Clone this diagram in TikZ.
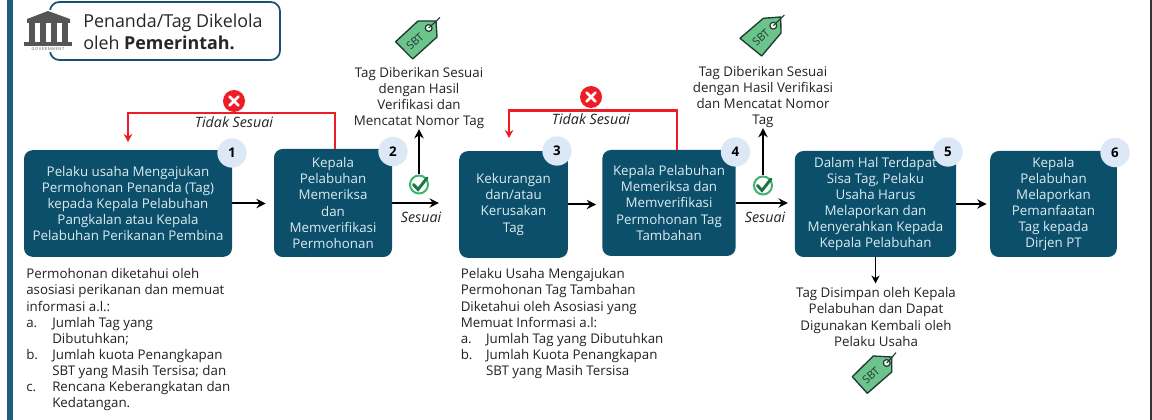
\documentclass[tikz,border=0pt]{standalone}
\usepackage{fontspec}
\setmainfont{Open Sans}
\usetikzlibrary{arrows.meta}
\definecolor{boxblue}{HTML}{0B4F6B}
\definecolor{barblue}{HTML}{1C5F80}
\definecolor{badgeblue}{HTML}{DCE8F5}
\definecolor{boxtext}{HTML}{DCEBF0}
\definecolor{bodytext}{HTML}{222222}
\definecolor{taggreen}{HTML}{6CC38C}
\definecolor{tagline}{HTML}{1E3A2C}
\definecolor{ringgreen}{HTML}{3DB56E}
\definecolor{tickgreen}{HTML}{1D7544}
\definecolor{govgray}{HTML}{555555}
\definecolor{xred}{HTML}{EE1C25}
\newcommand{\bodyfont}{\fontsize{10}{12.05}\selectfont}
\tikzset{
  px/.style={x=0.75pt,y=-0.75pt},
  stepbox/.style={draw=none,fill=boxblue,rounded corners=6.5pt,text=boxtext,align=center,font=\bodyfont,inner sep=0pt},
  badge/.style={circle,fill=badgeblue,minimum size=22pt,inner sep=0pt,font=\fontsize{10}{11}\selectfont\bfseries,text=black},
  bodylabel/.style={inner sep=0pt,font=\bodyfont,text=bodytext},
  flowlabel/.style={inner sep=0pt,font=\fontsize{10.7}{12}\selectfont\itshape,text=bodytext},
  flow/.style={draw=black,line width=1.5pt,-{Stealth[length=7pt,width=7pt]}},
  rejectflow/.style={draw=xred,line width=1.8pt,-{Stealth[length=6pt,width=6.5pt]}},
  okring/.style={circle,draw=ringgreen,line width=1.5pt,fill=white,minimum size=13.5pt,inner sep=0pt},
  oktick/.style={draw=tickgreen,line width=2.2pt,line cap=round},
  nomark/.style={circle,fill=xred,minimum size=16.5pt,inner sep=0pt},
  nostroke/.style={draw=white,line width=1.9pt,line cap=round},
  tagshape/.style={fill=taggreen,draw=tagline,line width=1pt,line join=round},
  tagtext/.style={inner sep=0pt,font=\fontsize{8.2}{9}\selectfont,text=tagline},
  goviron/.style={fill=govgray,draw=none}
}
\begin{document}
\begin{tikzpicture}[px]
\useasboundingbox (0,0) rectangle (1152,420);
\fill[white] (0,0) rectangle (1152,420);
\fill[barblue] (7,0) rectangle (13,420);
\fill[black!80] (1150,0) rectangle (1152,420);

% legend
\draw[draw=barblue!85!black,line width=1.3pt,rounded corners=7pt,fill=white] (50,2) rectangle (280,60);
\fill[white] (46,10) rectangle (56,52);
\fill[goviron] (27,19) -- (48,11) -- (70,19) -- (70,23) -- (27,23) -- cycle;
\fill[goviron] (29,23) rectangle (35,42);
\fill[goviron] (40,23) rectangle (46,42);
\fill[goviron] (51,23) rectangle (57,42);
\fill[goviron] (62,23) rectangle (68,42);
\fill[goviron] (24,42) rectangle (72,46);
\node[inner sep=0pt,text=govgray,font=\fontsize{3}{3}\selectfont] (gov) at (48,49) {\addfontfeatures{LetterSpace=15}GOVERNMENT};
\node[inner sep=0pt,anchor=west,align=left,text=black!85,font=\fontsize{13.4}{16.5}\selectfont] (legend) at (83,32) {Penanda/Tag Dikelola\\oleh \textbf{Pemerintah.}};

% steps
\node[stepbox,minimum width=156pt,minimum height=80pt] (b1) at (128,203.5) {Pelaku usaha Mengajukan\\Permohonan Penanda (Tag)\\kepada Kepala Pelabuhan\\Pangkalan atau Kepala\\Pelabuhan Perikanan Pembina};
\node[stepbox,minimum width=88.5pt,minimum height=81pt] (b2) at (333,203) {Kepala\\Pelabuhan\\Memeriksa\\dan\\Memverifikasi\\Permohonan};
\node[stepbox,minimum width=81.5pt,minimum height=80pt] (b3) at (513.5,204.5) {Kekurangan\\dan/atau\\Kerusakan\\Tag};
\node[stepbox,minimum width=100pt,minimum height=79.5pt] (b4) at (669,203) {Kepala Pelabuhan\\Memeriksa dan\\Memverifikasi\\Permohonan Tag\\Tambahan};
\node[stepbox,minimum width=121pt,minimum height=79.5pt] (b5) at (875.5,204) {Dalam Hal Terdapat\\Sisa Tag, Pelaku\\Usaha Harus\\Melaporkan dan\\Menyerahkan Kepada\\Kepala Pelabuhan};
\node[stepbox,minimum width=95pt,minimum height=79.5pt] (b6) at (1053.5,204) {Kepala\\Pelabuhan\\Melaporkan\\Pemanfaatan\\Tag kepada\\Dirjen PT};

\node[badge] (n1) at (232,153) {1};
\node[badge] (n2) at (393,151.5) {2};
\node[badge] (n3) at (557,151) {3};
\node[badge] (n4) at (735.5,152) {4};
\node[badge] (n5) at (948,152) {5};
\node[badge] (n6) at (1115,152.5) {6};

% body texts
\node[bodylabel,anchor=north west,align=left] (note1) at (26,268.5) {Permohonan diketahui oleh\\asosiasi perikanan dan memuat\\informasi a.l.:\\\makebox[19.5pt][l]{a.}Jumlah Tag yang\\\hspace*{19.5pt}Dibutuhkan;\\\makebox[19.5pt][l]{b.}Jumlah kuota Penangkapan\\\hspace*{19.5pt}SBT yang Masih Tersisa; dan\\\makebox[19.5pt][l]{c.}Rencana Keberangkatan dan\\\hspace*{19.5pt}Kedatangan.};
\node[bodylabel,anchor=north west,align=left] (note3) at (460.5,268.5) {Pelaku Usaha Mengajukan\\Permohonan Tag Tambahan\\Diketahui oleh Asosiasi yang\\Memuat Informasi a.l:\\\makebox[19pt][l]{a.}Jumlah Tag yang Dibutuhkan\\\makebox[19pt][l]{b.}Jumlah Kuota Penangkapan\\\hspace*{19pt}SBT yang Masih Tersisa};
\node[bodylabel,align=center] (note5) at (876,317) {Tag Disimpan oleh Kepala\\Pelabuhan dan Dapat\\Digunakan Kembali oleh\\Pelaku Usaha};
\node[bodylabel,align=center] (give2) at (419,98) {Tag Diberikan Sesuai\\dengan Hasil\\Verifikasi dan\\Mencatat Nomor Tag};
\node[bodylabel,align=center] (give4) at (763,97) {Tag Diberikan Sesuai\\dengan Hasil Verifikasi\\dan Mencatat Nomor\\Tag};

% marks
\node[okring] (ok2) at (419,184.5) {};
\draw[oktick] (413.5,184.5) -- (418,189.5) -- (427,178);
\node[okring] (ok4) at (763,185.5) {};
\draw[oktick] (757.5,185.5) -- (762,190.5) -- (771,179);
\node[nomark] (no1) at (234,101) {};
\draw[nostroke] (229.5,96.5) -- (238.5,105.5) (238.5,96.5) -- (229.5,105.5);
\node[nomark] (no3) at (591,97) {};
\draw[nostroke] (586.5,92.5) -- (595.5,101.5) (595.5,92.5) -- (586.5,101.5);

\node[flowlabel] (t1) at (234,122) {Tidak Sesuai};
\node[flowlabel] (t3) at (591,119) {Tidak Sesuai};
\node[flowlabel] (s2) at (421,217) {Sesuai};
\node[flowlabel] (s4) at (765,217) {Sesuai};

% connectors
\draw[flow,shorten >=6pt] (b1.east) -- (b1.east -| b2.west);
\draw[flow,shorten >=15pt] (b2.east) -- (b2.east -| b3.west);
\draw[flow,shorten >=4.5pt] (b3.east) -- (b3.east -| b4.west);
\draw[flow,shorten >=5pt] (b4.east) -- (b4.east -| b5.west);
\draw[flow,shorten >=2.5pt] (b5.east) -- (b5.east -| b6.west);
\draw[flow,line width=1.2pt,-{Stealth[length=6pt,width=6pt]},shorten >=3pt] (b5.south) -- (note5.north -| b5.south);
\draw[flow,shorten >=0pt] (ok2.north) -- (ok2.north |- give2.south);
\draw[flow,shorten >=0pt] (ok4.north) -- (ok4.north |- give4.south);

\coordinate (r1a) at (335,149);
\coordinate (r1b) at (335,113);
\coordinate (r1c) at (128,113);
\coordinate (r1d) at (128,142);
\draw[rejectflow] (r1a) -- (r1b) -- (r1c) -- (r1d);
\coordinate (r3a) at (677,150);
\coordinate (r3b) at (677,110.5);
\coordinate (r3c) at (509,110.5);
\coordinate (r3d) at (509,138);
\draw[rejectflow] (r3a) -- (r3b) -- (r3c) -- (r3d);

% tags
\draw[tagshape] (418,21) -- (436,21) -- (437,37) -- (412.7,59) -- (395.6,41.7) -- cycle;
\draw[draw=tagline,fill=white,line width=0.9pt] (428.7,28) circle[radius=3.4];
\draw[draw=tagline,line width=0.8pt] (428.7,28) -- (440,17.5);
\node[tagtext,rotate=42] (sbt1) at (415,41.5) {SBT};

\draw[tagshape] (763.3,18.3) -- (780.7,17) -- (781,33) -- (761.7,56) -- (740,38.3) -- cycle;
\draw[draw=tagline,fill=white,line width=0.9pt] (773.3,25.7) circle[radius=3.4];
\draw[draw=tagline,line width=0.8pt] (773.3,25.7) -- (784.3,15);
\node[tagtext,rotate=42] (sbt2) at (761,37.5) {SBT};

\draw[tagshape] (873.3,356) -- (891.7,357) -- (891.7,372) -- (867.3,393.3) -- (852.3,376.7) -- cycle;
\draw[draw=tagline,fill=white,line width=0.9pt] (886.7,363) circle[radius=3.4];
\draw[draw=tagline,line width=0.8pt] (886.7,363) -- (896,352.7);
\node[tagtext,rotate=42] (sbt3) at (871,375.5) {SBT};
\end{tikzpicture}
\end{document}
